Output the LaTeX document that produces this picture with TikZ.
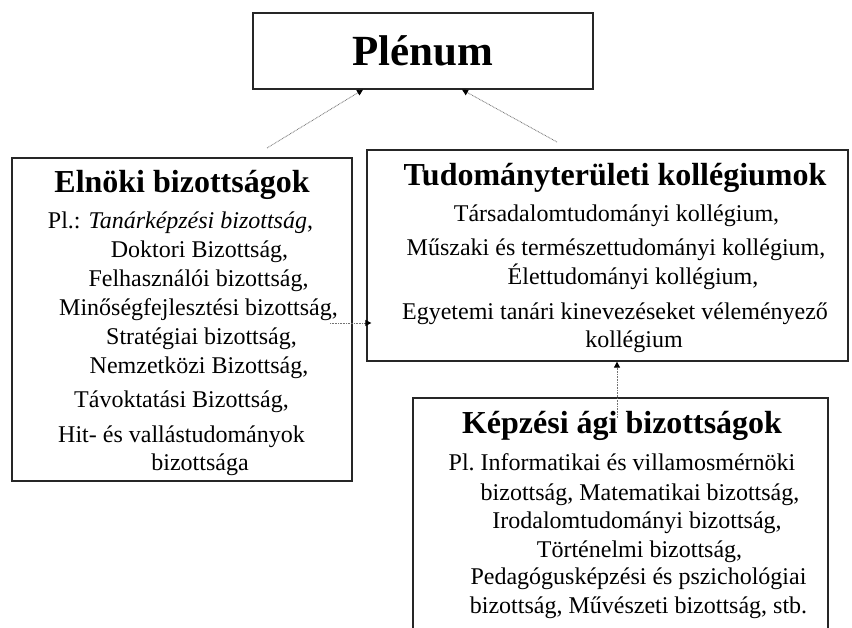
\documentclass[tikz,border=0pt]{standalone}
\usepackage{fontspec}
\setmainfont{Liberation Serif}
\usetikzlibrary{arrows.meta}
\begin{document}
\begin{tikzpicture}[x=1pt,y=-1pt,
  box/.style={draw=black!85, line width=1.3pt, rectangle, inner sep=0pt},
  conn/.style={draw=black!55, line width=0.8pt, dash pattern=on 0.8pt off 0.8pt,
    -{Triangle[length=6pt,width=6pt,color=black]}},
  ttl/.style={anchor=base, font=\fontsize{32}{36}\selectfont\bfseries, inner sep=0pt},
  txt/.style={anchor=base, font=\fontsize{24}{28}\selectfont, inner sep=0pt}]
\useasboundingbox (0,0) rectangle (852,628);
\clip (0,0) rectangle (852,628);
\fill[white] (0,0) rectangle (852,628);

% boxes
\node[box, minimum width=340pt, minimum height=76pt] (plenum) at (423,51) {};
\node[box, minimum width=340pt, minimum height=323pt] (elnoki) at (182,319.5) {};
\node[box, minimum width=481pt, minimum height=211pt] (tudomany) at (607.5,255.5) {};
\node[box, minimum width=415pt, minimum height=262pt] (kepzesi) at (620.5,529) {};

% Plénum
\node[anchor=base, inner sep=0pt, font=\fontsize{43}{48}\selectfont\bfseries] (plenumt) at (423,66) {Plénum};

% Elnöki bizottságok
\node[ttl] (elt) at (182,193) {Elnöki bizottságok};
\node[txt] (el1) at (180.5,229) {Pl.: \textit{Tanárképzési bizottság},};
\node[txt] (el2) at (199.5,258) {Doktori Bizottság,};
\node[txt] (el3) at (198.5,287) {Felhasználói bizottság,};
\node[txt] (el4) at (198.5,316) {Minőségfejlesztési bizottság,};
\node[txt] (el5) at (201.5,345) {Stratégiai bizottság,};
\node[txt] (el6) at (199,373.5) {Nemzetközi Bizottság,};
\node[txt] (el7) at (181.5,408) {Távoktatási Bizottság,};
\node[txt] (el8) at (181.5,442.5) {Hit- és vallástudományok};
\node[txt] (el9) at (200,470.5) {bizottsága};

% Tudományterületi kollégiumok
\node[ttl] (tut) at (615,186) {Tudományterületi kollégiumok};
\node[txt] (tu1) at (616.5,222) {Társadalomtudományi kollégium,};
\node[txt] (tu2) at (616,256) {Műszaki és természettudományi kollégium,};
\node[txt] (tu3) at (633,284.5) {Élettudományi kollégium,};
\node[txt] (tu4) at (615,320) {Egyetemi tanári kinevezéseket véleményező};
\node[txt] (tu5) at (634,348) {kollégium};

% Képzési ági bizottságok
\node[ttl] (kot) at (622,434) {Képzési ági bizottságok};
\node[txt] (ko1) at (622,470) {Pl.\ Informatikai és villamosmérnöki};
\node[txt] (ko2) at (640,500) {bizottság, Matematikai bizottság,};
\node[txt] (ko3) at (637,528.5) {Irodalomtudományi bizottság,};
\node[txt] (ko4) at (639.5,557) {Történelmi bizottság,};
\node[txt] (ko5) at (638.5,584.5) {Pedagógusképzési és pszichológiai};
\node[txt] (ko6) at (638.5,613) {bizottság, Művészeti bizottság, stb.};

% connector end points
\coordinate (a1) at (267,148);
\coordinate (a2) at ([xshift=-60pt]plenum.south);
\coordinate (b1) at (557,142);
\coordinate (b2) at ([xshift=39pt]plenum.south);
\coordinate (c1) at (330,323);
\coordinate (c2) at ([xshift=5pt]tudomany.west |- c1);
\coordinate (d1) at (617,418);
\coordinate (d2) at (d1 |- tudomany.south);

\draw[conn] (a1) -- (a2);
\draw[conn] (b1) -- (b2);
\draw[conn] (c1) -- (c2);
\draw[conn] (d1) -- (d2);
\end{tikzpicture}
\end{document}
